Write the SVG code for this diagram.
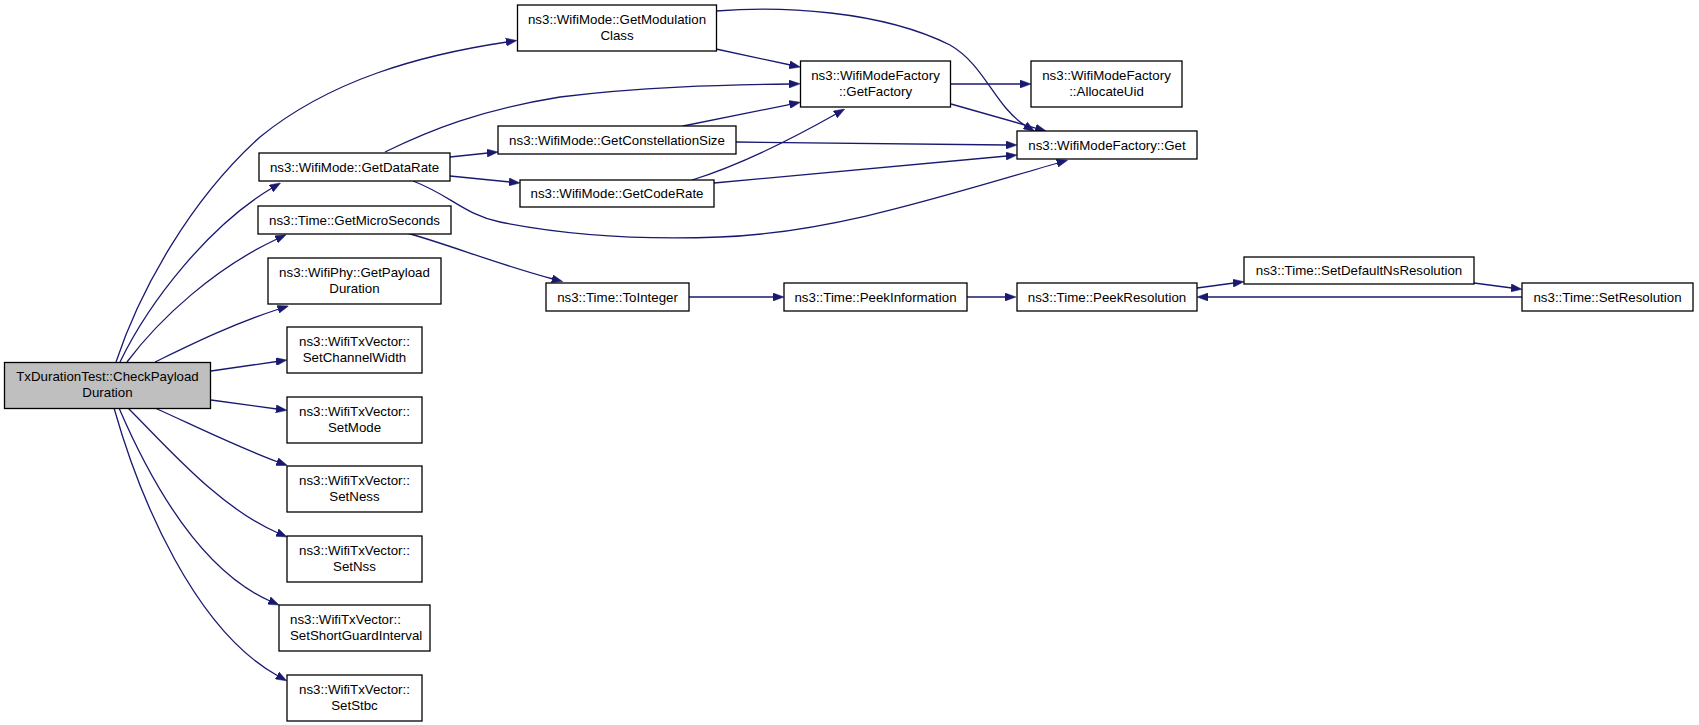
<svg xmlns="http://www.w3.org/2000/svg" width="1699" height="725" viewBox="0 0 1699 725">
<style>
.n rect{fill:#fff;stroke:#000;stroke-width:1.3}
.root rect{fill:#bfbfbf}
text{font-family:"Liberation Sans",Arial,sans-serif;font-size:13.3px;fill:#000;text-anchor:middle}
.l{text-anchor:start}
.e path{fill:none;stroke:#191970;stroke-width:1.3;marker-end:url(#ah)}
</style>
<defs>
<marker id="ah" viewBox="0 0 11 8" refX="1" refY="4" markerWidth="11" markerHeight="8" markerUnits="userSpaceOnUse" orient="auto">
<path d="M0,0 L11,4 L0,8 z" fill="#191970" stroke="#191970" stroke-width="0.5"/>
</marker>
</defs>
<rect width="1699" height="725" fill="#fff"/>
<g id="edges" class="e">
<path d="M116,362 C140,290 190,200 260,137 C330,80 420,55 507,42"/>
<path d="M120,362 C150,300 210,225 272,188"/>
<path d="M127,362 C160,318 215,268 277,239"/>
<path d="M155,362 C190,345 230,325 279,309"/>
<path d="M211,371 L277,361.5"/>
<path d="M211,400 L277,409"/>
<path d="M155,408 C195,426 235,446 278,462"/>
<path d="M128,408 C170,450 220,508 278,533"/>
<path d="M119,408 C150,480 200,570 270,601"/>
<path d="M114,408 C140,500 195,630 278,676"/>
<path d="M716,49 L790.5,65"/>
<path d="M716,11 C780,6 880,10 950,45 C985,65 995,107 1026,126"/>
<path d="M951,84 L1021,84"/>
<path d="M951,104 L1036.5,128.3"/>
<path d="M385,152 C430,130 480,110 560,97 C640,87 720,85 790,84"/>
<path d="M450,157 L488,153"/>
<path d="M450,176 L510,182"/>
<path d="M413,181 C450,195 465,215 500,222 C570,236 640,240 720,237 C830,233 940,197 1058,163"/>
<path d="M683,126 L790.5,104.3"/>
<path d="M736,142 L1007,145"/>
<path d="M692,180 C740,165 790,140 836,114"/>
<path d="M714,183 L1007,156"/>
<path d="M407,233 C450,245 500,265 553,279"/>
<path d="M689,297 L774,297"/>
<path d="M967,297 L1006,297"/>
<path d="M1197,288 L1234,283"/>
<path d="M1474,283 L1512,288"/>
<path d="M1522,297 L1207,297"/>
</g>
<g id="root" class="n root"><rect x="4.5" y="362.5" width="206" height="46"/><text x="107.5" y="381">TxDurationTest::CheckPayload</text><text x="107.5" y="397">Duration</text></g>
<g id="getModulationClass" class="n"><rect x="517.5" y="5" width="199" height="46"/><text x="617" y="24">ns3::WifiMode::GetModulation</text><text x="617" y="40">Class</text></g>
<g id="getFactory" class="n"><rect x="800.5" y="61" width="150" height="46"/><text x="875.5" y="80">ns3::WifiModeFactory</text><text x="875.5" y="96">::GetFactory</text></g>
<g id="allocateUid" class="n"><rect x="1031" y="61" width="151" height="46"/><text x="1106.5" y="80">ns3::WifiModeFactory</text><text x="1106.5" y="96">::AllocateUid</text></g>
<g id="get" class="n"><rect x="1017" y="131" width="180" height="28"/><text x="1107" y="149.5">ns3::WifiModeFactory::Get</text></g>
<g id="getConstellationSize" class="n"><rect x="498" y="126" width="238" height="28"/><text x="617" y="144.5">ns3::WifiMode::GetConstellationSize</text></g>
<g id="getDataRate" class="n"><rect x="259" y="153" width="191" height="28"/><text x="354.5" y="171.5">ns3::WifiMode::GetDataRate</text></g>
<g id="getCodeRate" class="n"><rect x="520" y="180" width="194" height="27"/><text x="617" y="198">ns3::WifiMode::GetCodeRate</text></g>
<g id="getMicroSeconds" class="n"><rect x="258" y="206" width="193" height="28"/><text x="354.5" y="224.5">ns3::Time::GetMicroSeconds</text></g>
<g id="getPayloadDuration" class="n"><rect x="268" y="258" width="173" height="46"/><text x="354.5" y="277">ns3::WifiPhy::GetPayload</text><text x="354.5" y="293">Duration</text></g>
<g id="setChannelWidth" class="n"><rect x="287" y="327" width="135" height="46"/><text x="354.5" y="346">ns3::WifiTxVector::</text><text x="354.5" y="362">SetChannelWidth</text></g>
<g id="setMode" class="n"><rect x="287" y="397" width="135" height="46"/><text x="354.5" y="416">ns3::WifiTxVector::</text><text x="354.5" y="432">SetMode</text></g>
<g id="setNess" class="n"><rect x="287" y="466" width="135" height="46"/><text x="354.5" y="485">ns3::WifiTxVector::</text><text x="354.5" y="501">SetNess</text></g>
<g id="setNss" class="n"><rect x="287" y="536" width="135" height="46"/><text x="354.5" y="555">ns3::WifiTxVector::</text><text x="354.5" y="571">SetNss</text></g>
<g id="setShortGuardInterval" class="n"><rect x="279" y="605" width="151" height="46"/><text class="l" x="290" y="624">ns3::WifiTxVector::</text><text class="l" x="290" y="640">SetShortGuardInterval</text></g>
<g id="setStbc" class="n"><rect x="287" y="675" width="135" height="46"/><text x="354.5" y="694">ns3::WifiTxVector::</text><text x="354.5" y="710">SetStbc</text></g>
<g id="toInteger" class="n"><rect x="546" y="283" width="143" height="28"/><text x="617.5" y="301.5">ns3::Time::ToInteger</text></g>
<g id="peekInformation" class="n"><rect x="784" y="283" width="183" height="28"/><text x="875.5" y="301.5">ns3::Time::PeekInformation</text></g>
<g id="peekResolution" class="n"><rect x="1017" y="283" width="180" height="28"/><text x="1107" y="301.5">ns3::Time::PeekResolution</text></g>
<g id="setDefaultNsResolution" class="n"><rect x="1244" y="257" width="230" height="27"/><text x="1359" y="275">ns3::Time::SetDefaultNsResolution</text></g>
<g id="setResolution" class="n"><rect x="1522" y="283" width="171" height="28"/><text x="1607.5" y="301.5">ns3::Time::SetResolution</text></g>
</svg>
